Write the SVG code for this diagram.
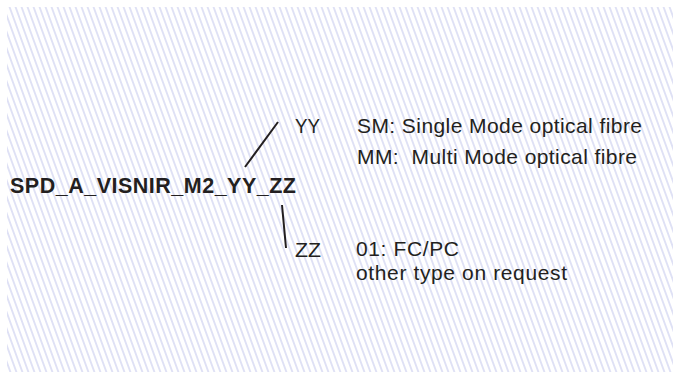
<svg xmlns="http://www.w3.org/2000/svg" width="673" height="372" viewBox="0 0 673 372">
<style>
text{font-family:"Liberation Sans",Arial,sans-serif;fill:#231f20}
.t{font-size:21px}
.b{font-size:21.5px;font-weight:bold}
.c{stroke:#231f20;stroke-width:2;fill:none}
</style>
<defs>
<pattern id="hatch" patternUnits="userSpaceOnUse" width="6" height="20" patternTransform="skewX(20)">
<line x1="1" y1="0" x2="1" y2="20" stroke="#c0c4ec" stroke-width="1"/>
</pattern>
</defs>
<rect width="673" height="372" fill="#ffffff"/>
<rect x="7" y="7" width="666" height="365" fill="url(#hatch)"/>
<g id="code"><text class="b" x="10" y="193" textLength="286" lengthAdjust="spacing">SPD_A_VISNIR_M2_YY_ZZ</text></g>
<g id="yy"><text class="t" x="295" y="133" textLength="25" lengthAdjust="spacingAndGlyphs">YY</text></g>
<g id="yy-desc">
<text class="t" x="357" y="133" textLength="285" lengthAdjust="spacing">SM: Single Mode optical fibre</text>
<text class="t" x="357" y="164" textLength="280" lengthAdjust="spacing" xml:space="preserve">MM:  Multi Mode optical fibre</text>
</g>
<g id="zz"><text class="t" x="295" y="257" textLength="26" lengthAdjust="spacingAndGlyphs">ZZ</text></g>
<g id="zz-desc">
<text class="t" x="356" y="256" textLength="103" lengthAdjust="spacing">01: FC/PC</text>
<text class="t" x="356" y="280" textLength="211" lengthAdjust="spacing">other type on request</text>
</g>
<g id="connectors">
<line class="c" x1="245" y1="167" x2="278" y2="122"/>
<line class="c" x1="282" y1="205" x2="286" y2="248"/>
</g>
</svg>
